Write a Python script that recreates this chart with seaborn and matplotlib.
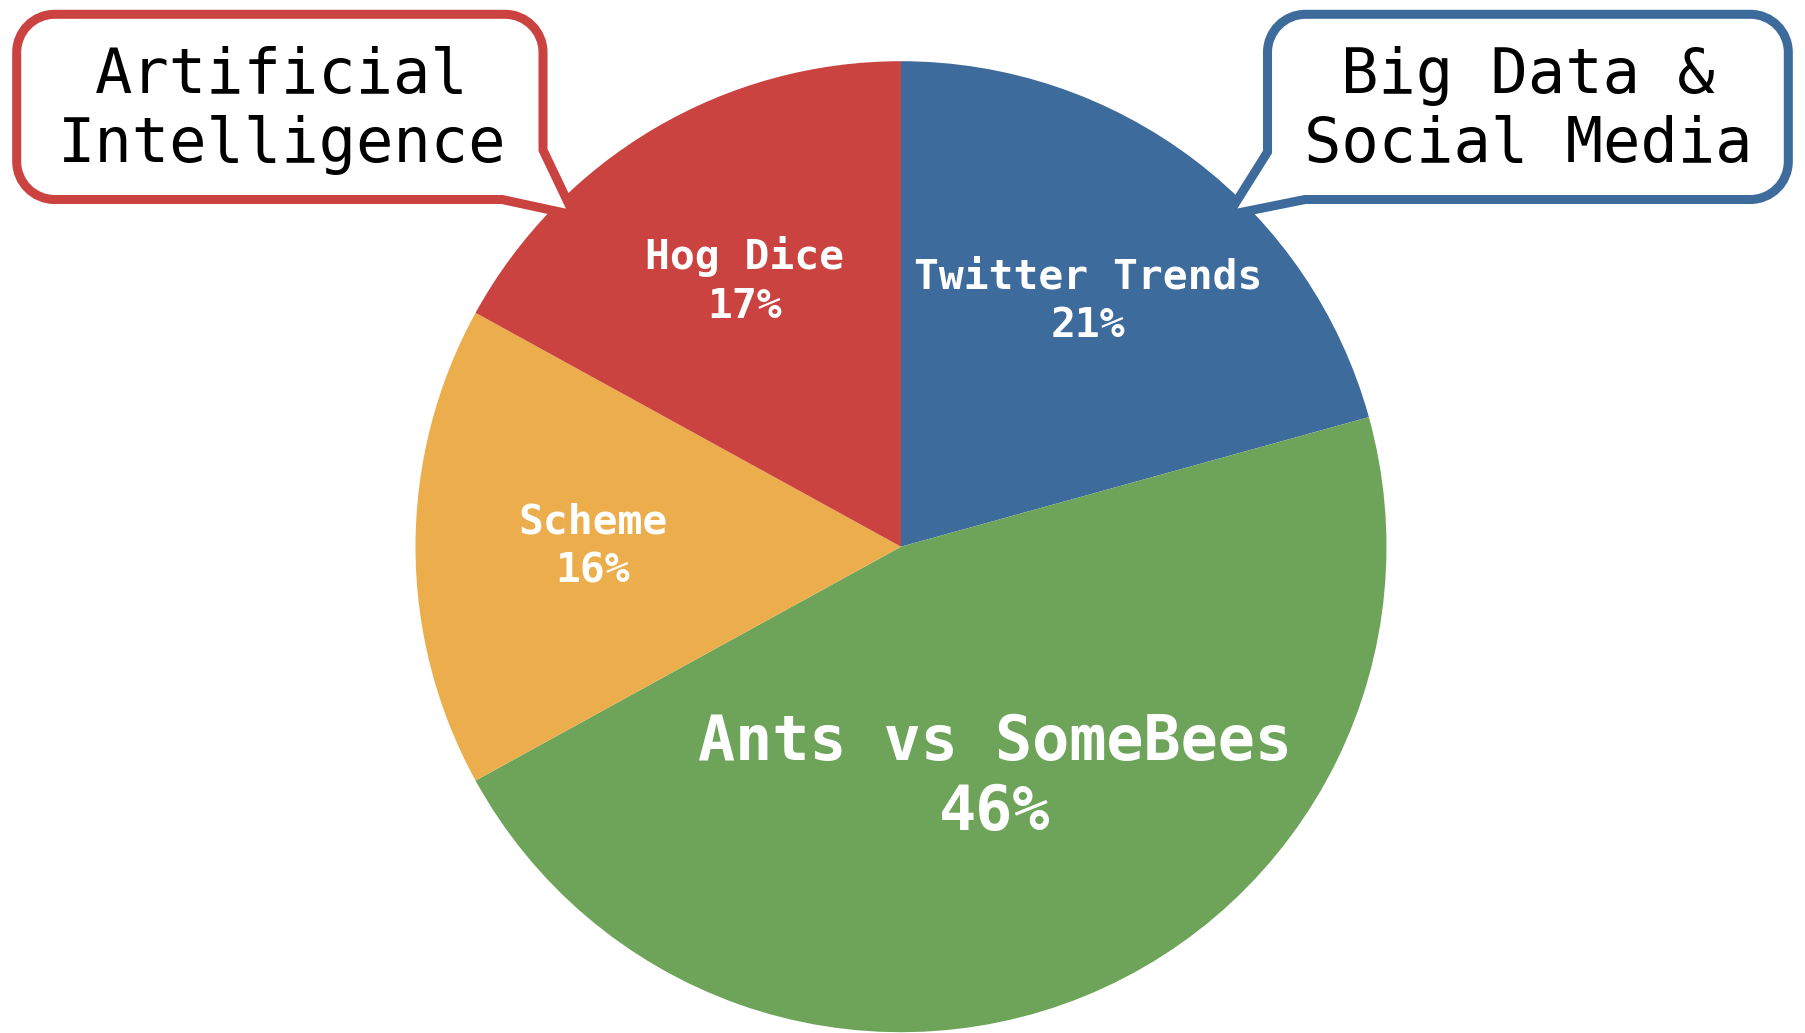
import numpy as np
import matplotlib
matplotlib.use("Agg")
import matplotlib.pyplot as plt
import seaborn as sns
from matplotlib.path import Path
from matplotlib.patches import PathPatch
from matplotlib.transforms import Affine2D

# ---- data ----
projects = ["Twitter Trends", "Ants vs SomeBees", "Scheme", "Hog Dice"]
shares = [20.7, 46.3, 16.0, 17.0]
slice_colors = ["#3D6B9C", "#6EA45A", "#ECAE4C", "#CA4340"]
callout_texts = ["Artificial\nIntelligence", "Big Data &\nSocial Media"]
callout_colors = ["#CA4340", "#3D6B9C"]

sns.set_theme(style="white")
plt.rcParams['font.family'] = ['DejaVu Sans Mono', 'DejaVu Sans']

W, H = 1805, 1033
fig = plt.figure(figsize=(W / 100, H / 100), dpi=100)
fig.patch.set_facecolor("white")

R = 485.5
cx, cy = 901, 546.7
ax = fig.add_axes([(cx - R) / W, (H - cy - R) / H, 2 * R / W, 2 * R / H])
wedges, _ = ax.pie(shares, colors=slice_colors, startangle=90, counterclock=False,
                   radius=1, wedgeprops=dict(linewidth=0))
ax.set_xlim(-1, 1)
ax.set_ylim(-1, 1)
ax.set_aspect("equal")
ax.axis("off")

big = int(np.argmax(shares))
for i, (w, name, val) in enumerate(zip(wedges, projects, shares)):
    th = np.deg2rad((w.theta1 + w.theta2) / 2)
    d = 0.514 if i == big else 0.635
    fs = 44.5 if i == big else 29.8
    ls = 1.22 if i == big else 1.32
    ax.text(d * np.cos(th), d * np.sin(th), f"{name}\n{round(val):d}%", ha="center", va="center",
            color="white", fontweight="bold", fontsize=fs, family="DejaVu Sans Mono",
            linespacing=ls, clip_on=False)

# pixel transform (top-left origin)
pxT = Affine2D().scale(1 / W, -1 / H).translate(0, 1) + fig.transFigure


def bubble(L, T, Rr, B, r, tail_side, tail_start_y, tip, tail_end_x):
    k = 0.5523 * r
    verts, codes = [], []

    def mv(p):
        verts.append(p); codes.append(Path.MOVETO)

    def ln(p):
        verts.append(p); codes.append(Path.LINETO)

    def cv(c1, c2, p):
        verts.extend([c1, c2, p]); codes.extend([Path.CURVE4] * 3)

    mv((L + r, T))
    ln((Rr - r, T))
    cv((Rr - r + k, T), (Rr, T + r - k), (Rr, T + r))
    if tail_side == "right":
        ln((Rr, tail_start_y))
        ln(tip)
        ln((tail_end_x, B))
    else:
        ln((Rr, B - r))
        cv((Rr, B - r + k), (Rr - r + k, B), (Rr - r, B))
    if tail_side == "left":
        ln((tail_end_x, B))
        ln(tip)
        ln((L, tail_start_y))
    else:
        ln((L + r, B))
        cv((L + r - k, B), (L, B - r + k), (L, B - r))
    ln((L, T + r))
    cv((L, T + r - k), (L + r - k, T), (L + r, T))
    codes.append(Path.CLOSEPOLY); verts.append((L + r, T))
    return Path(verts, codes)


paths = [
    bubble(16.7, 14.3, 543, 199.5, 38, "right", 150, (574, 215), 502),
    bubble(1267.5, 14.3, 1788.3, 199.5, 38, "left", 152, (1228, 215), 1305),
]
centers = [(282, 110.5), (1528, 110.5)]

for p, col, txt, (tx, ty) in zip(paths, callout_colors, callout_texts, centers):
    patch = PathPatch(p, facecolor="white", edgecolor=col, lw=6.5, joinstyle="miter",
                      transform=pxT, zorder=5)
    fig.add_artist(patch)
    fig.text(tx, ty, txt, transform=pxT, ha="center", va="center", fontsize=44.7,
             family="DejaVu Sans Mono", color="black", linespacing=1.2, zorder=6)

fig.savefig("out.png", dpi=100)
